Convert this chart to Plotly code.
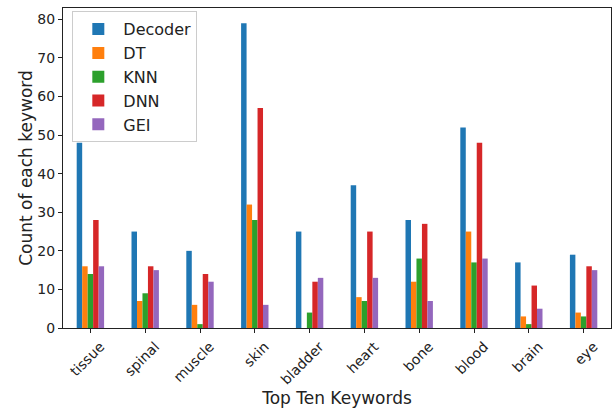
import plotly.graph_objects as go

categories = ["tissue", "spinal", "muscle", "skin", "bladder", "heart", "bone", "blood", "brain", "eye"]
decoder = [48, 25, 20, 79, 25, 37, 28, 52, 17, 19]
dt = [16, 7, 6, 32, 0, 8, 12, 25, 3, 4]
knn = [14, 9, 1, 28, 4, 7, 18, 17, 1, 3]
dnn = [28, 16, 14, 57, 12, 25, 27, 48, 11, 16]
gei = [16, 15, 12, 6, 13, 13, 7, 18, 5, 15]

series = [("Decoder", decoder, "#1f77b4"), ("DT", dt, "#ff7f0e"), ("KNN", knn, "#2ca02c"),
          ("DNN", dnn, "#d62728"), ("GEI", gei, "#9467bd")]

fig = go.Figure()
for name, vals, col in series:
    fig.add_trace(go.Bar(x=categories, y=vals, name=name, marker_color=col, marker_line_width=0))

font = "DejaVu Sans"
fig.update_layout(
    width=615, height=408,
    margin=dict(l=63, r=4, t=8, b=80),
    barmode="group", bargap=0.5, bargroupgap=0,
    plot_bgcolor="white", paper_bgcolor="white",
    font=dict(family=font, size=14, color="#222222"),
    legend=dict(x=0.017, y=0.99, xanchor="left", yanchor="top",
                bordercolor="#cccccc", borderwidth=1, bgcolor="rgba(255,255,255,0.8)",
                font=dict(size=16), tracegroupgap=0, itemwidth=40),
    showlegend=True,
)
fig.update_xaxes(
    title=dict(text="Top Ten Keywords", font=dict(size=17), standoff=4),
    tickangle=-45, ticks="outside", ticklen=4, tickcolor="#222222", ticklabelshift=10,
    showline=True, linecolor="#222222", linewidth=1, mirror=True,
    range=[-0.5, 9.5], showgrid=False, automargin=False,
)
fig.update_yaxes(
    title=dict(text="Count of each keyword", font=dict(size=17), standoff=0),
    range=[0, 82.95], tickvals=[0, 10, 20, 30, 40, 50, 60, 70, 80],
    ticks="outside", ticklen=4, tickcolor="#222222",
    showline=True, linecolor="#222222", linewidth=1, mirror=True,
    showgrid=False, zeroline=False, automargin=False,
)
fig.write_html("out.html", config={"displayModeBar": False},
               post_script="document.body.style.margin='0';document.body.style.overflow='hidden';")
